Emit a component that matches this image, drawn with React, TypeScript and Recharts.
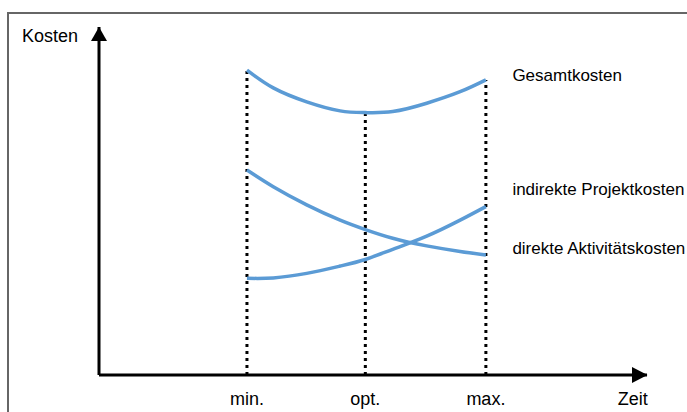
import React from 'react';
import { LineChart, Line, XAxis, YAxis, ReferenceLine, ReferenceDot } from 'recharts';

// Time positions (abstract units on a 0..100 time axis)
const times = [27, 31.8, 37.9, 44, 48.6, 53.6, 59.8, 65.9, 70.6];
// Cost values (abstract units on a 0..100 cost axis)
const gesamtkosten = [87.6, 82.5, 78.5, 75.9, 75.4, 75.7, 78.1, 81.4, 84.8];
const indirekteKosten = [27.8, 27.9, 29.2, 31.3, 33.2, 36.1, 39.9, 44.5, 48.4];
const direkteKosten = [58.9, 54.1, 48.9, 44.5, 41.8, 39.3, 37.1, 35.5, 34.5];

const tickValues = [27, 48.6, 70.6, 97.4];
const tickLabels = ['min.', 'opt.', 'max.', 'Zeit'];
const markerIndices = [0, 4, 8]; // min., opt., max.

const seriesKeys = ['gesamt', 'indirekt', 'direkt'];
const seriesNames = ['Gesamtkosten', 'indirekte Projektkosten', 'direkte Aktivitätskosten'];
const labelOffsets = [1.5, -12, -1];

const data = times.map((t, i) => ({
  t,
  gesamt: gesamtkosten[i],
  indirekt: indirekteKosten[i],
  direkt: direkteKosten[i],
}));

const FONT = '"Liberation Sans", Arial, sans-serif';
const BLUE = '#5B9BD5';

const XTick = (props: any) => {
  const { x, y, payload } = props;
  const idx = tickValues.indexOf(payload.value);
  return (
    <text x={x} y={y} dy={29.5} textAnchor="middle" fontSize={18} fontFamily={FONT} fill="#000">
      {tickLabels[idx] ?? ''}
    </text>
  );
};

const KostenLabel = (props: any) => {
  const vb = props.viewBox || {};
  return (
    <text x={vb.x + 14} y={vb.y + 15} fontSize={18} fontFamily={FONT} fill="#000">
      Kosten
    </text>
  );
};

const makeSeriesLabel = (s: number) => (props: any) => {
  const { x, y, index } = props;
  if (index !== times.length - 1) return null;
  return (
    <text x={x + 26.5} y={y + labelOffsets[s]} fontSize={17} fontFamily={FONT} fill="#000">
      {seriesNames[s]}
    </text>
  );
};

const RightArrow = (props: any) => {
  const { cx, cy } = props;
  return <polygon points={`${cx - 15},${cy - 8} ${cx + 0.5},${cy} ${cx - 15},${cy + 8}`} fill="#000" />;
};

const UpArrow = (props: any) => {
  const { cx, cy } = props;
  return <polygon points={`${cx - 8},${cy + 14} ${cx},${cy} ${cx + 8},${cy + 14}`} fill="#000" />;
};

export default function App() {
  return (
    <div
      style={{
        position: 'absolute',
        left: 0,
        top: 0,
        width: 687,
        height: 412,
        overflow: 'hidden',
        background: '#fff',
      }}
    >
      <LineChart
        width={687}
        height={412}
        data={data}
        margin={{ top: 27, right: 40, bottom: 7, left: 8 }}
      >
        <XAxis
          dataKey="t"
          type="number"
          domain={[0, 100]}
          ticks={tickValues}
          interval={0}
          tick={<XTick />}
          tickLine={false}
          tickSize={0}
          tickMargin={0}
          height={30}
          axisLine={{ stroke: '#000', strokeWidth: 3 }}
          allowDataOverflow
        />
        <YAxis
          type="number"
          domain={[0, 100]}
          width={91}
          tick={false}
          tickLine={false}
          axisLine={{ stroke: '#000', strokeWidth: 3 }}
          label={{ content: <KostenLabel /> } as any}
          allowDataOverflow
        />
        {markerIndices.map((i) => (
          <ReferenceLine
            key={`ref-${i}`}
            segment={[
              { x: times[i], y: 0 },
              { x: times[i], y: gesamtkosten[i] },
            ]}
            stroke="#000"
            strokeWidth={3}
            strokeDasharray="3 4"
            ifOverflow="visible"
          />
        ))}
        {seriesKeys.map((k, s) => (
          <Line
            key={k}
            dataKey={k}
            type="natural"
            stroke={BLUE}
            strokeWidth={3.5}
            dot={false}
            activeDot={false}
            isAnimationActive={false}
            label={makeSeriesLabel(s)}
          />
        ))}
        <ReferenceDot x={100} y={0} r={0} ifOverflow="visible" shape={<RightArrow />} />
        <ReferenceDot x={0} y={100} r={0} ifOverflow="visible" shape={<UpArrow />} />
      </LineChart>
      <div
        style={{
          position: 'absolute',
          left: 7,
          top: 12,
          width: 720,
          height: 440,
          borderTop: '2px solid #666',
          borderLeft: '2px solid #666',
          pointerEvents: 'none',
        }}
      />
    </div>
  );
}
